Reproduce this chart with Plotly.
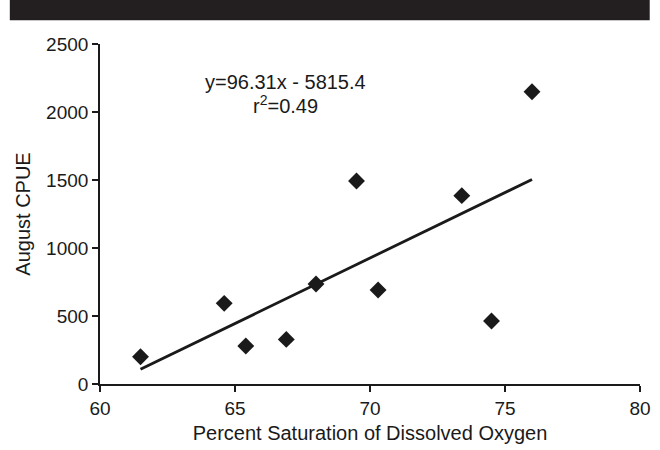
import plotly.graph_objects as go

# Data
do_saturation = [61.5, 64.6, 65.4, 66.9, 68.0, 69.5, 70.3, 73.4, 74.5, 76.0]
august_cpue = [200, 593, 279, 328, 735, 1493, 691, 1385, 463, 2149]

slope = 96.31
intercept = -5815.4
x_ticks = [60, 65, 70, 75, 80]
y_ticks = [0, 500, 1000, 1500, 2000, 2500]

trend_x = [min(do_saturation), max(do_saturation)]
trend_y = [slope * v + intercept for v in trend_x]

FONT = "Liberation Sans, Arial, sans-serif"
INK = "#1a1a1a"
FS_TICK = 19
FS_TITLE = 20

fig = go.Figure()
fig.add_trace(go.Scatter(
    x=trend_x, y=trend_y, mode="lines",
    line=dict(color=INK, width=2.8), showlegend=False, hoverinfo="skip"))
fig.add_trace(go.Scatter(
    x=do_saturation, y=august_cpue, mode="markers",
    marker=dict(symbol="diamond", size=13, color=INK, line=dict(width=0)),
    showlegend=False))

axis_common = dict(
    showgrid=False, zeroline=False, showline=True, linecolor=INK, linewidth=1.6,
    ticks="outside", ticklen=6, tickwidth=1.6, tickcolor=INK,
    tickfont=dict(family=FONT, size=FS_TICK, color=INK),
    automargin=False,
)

fig.update_xaxes(range=[60, 80], tickvals=x_ticks,
                 title=dict(text="Percent Saturation of Dissolved Oxygen",
                            font=dict(family=FONT, size=FS_TITLE, color=INK), standoff=8),
                 **axis_common)
fig.update_yaxes(range=[0, 2500], tickvals=y_ticks,
                 title=dict(text="August CPUE",
                            font=dict(family=FONT, size=FS_TITLE, color=INK), standoff=10),
                 **axis_common)

fig.add_annotation(xref="paper", yref="paper", x=0.3426, y=0.888,
                   text="y=96.31x - 5815.4", showarrow=False,
                   font=dict(family=FONT, size=FS_TITLE, color=INK),
                   xanchor="center", yanchor="middle")
fig.add_annotation(xref="paper", yref="paper", x=0.3426, y=0.822,
                   text="r<sup>2</sup>=0.49", showarrow=False,
                   font=dict(family=FONT, size=FS_TITLE, color=INK),
                   xanchor="center", yanchor="middle")

# dark header bar at the top of the figure
fig.add_shape(type="rect", xref="paper", yref="paper",
              x0=-0.167, x1=1.018, y0=1.07, y1=1.13,
              fillcolor="#231f20", line=dict(width=0), layer="above")

fig.update_layout(
    width=660, height=450,
    margin=dict(l=100, r=20, t=44, b=66),
    paper_bgcolor="white", plot_bgcolor="white",
    font=dict(family=FONT, color=INK),
)

fig.write_html("out.html")
